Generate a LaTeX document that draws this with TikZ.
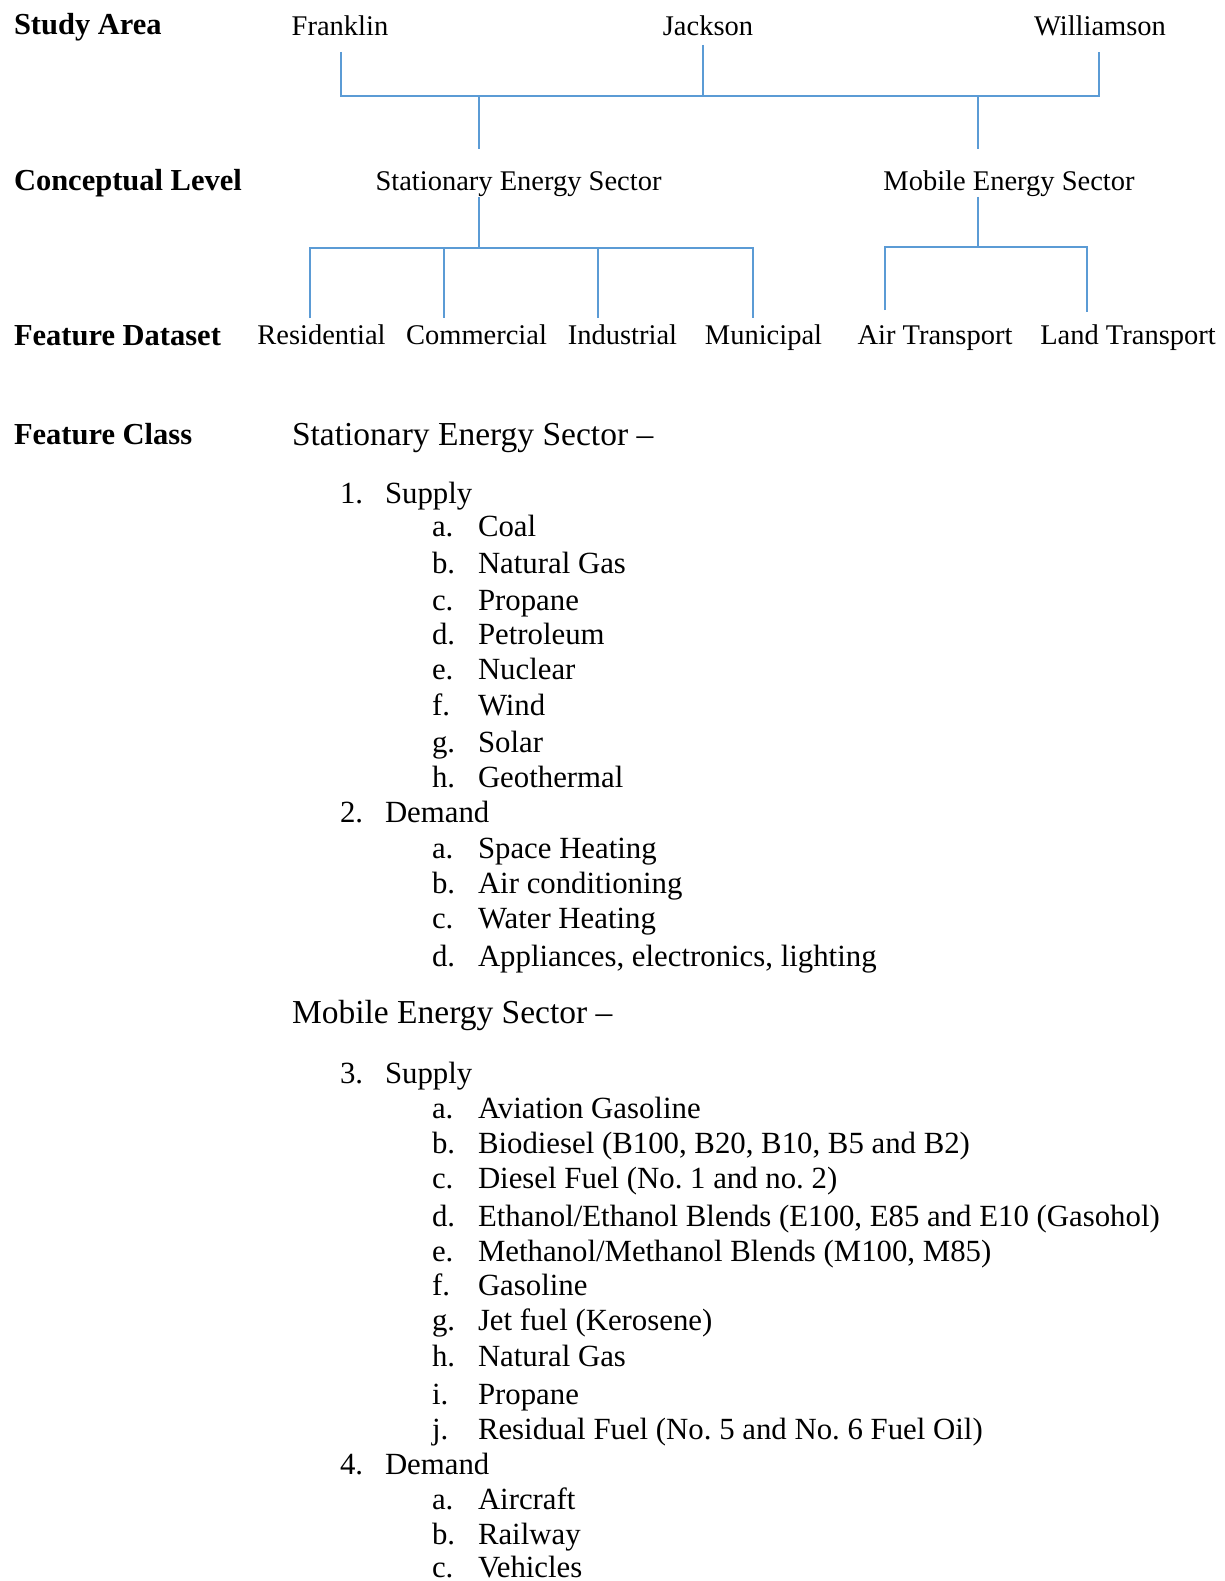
\documentclass[tikz,border=0pt]{standalone}
\usepackage{fontspec}
\setmainfont{Liberation Serif}
\frenchspacing
\definecolor{linkblue}{RGB}{91,155,213}
\begin{document}
\begin{tikzpicture}[x=1pt,y=-1pt,
  every node/.style={inner sep=0pt,outer sep=0pt},
  lvl/.style={anchor=base west,font=\bfseries\fontsize{30.5}{36}\selectfont},
  tlabel/.style={anchor=base,font=\fontsize{28.5}{34}\selectfont},
  head/.style={anchor=base west,font=\fontsize{33.5}{40}\selectfont},
  item/.style={anchor=base west,font=\fontsize{30.8}{36}\selectfont},
  link/.style={draw=linkblue,line width=2pt}]
\useasboundingbox[fill=white] (0,0) rectangle (1224,1581);

% level captions
\node[lvl] (lvStudy) at (14,35) {Study Area};
\node[lvl] (lvConcept) at (14,191) {Conceptual Level};
\node[lvl] (lvDataset) at (14,345) {Feature Dataset};
\node[lvl] (lvClass) at (14,444) {Feature Class};

% study area
\node[tlabel] (franklin) at (340,36) {Franklin};
\node[tlabel] (jackson) at (708,36) {Jackson};
\node[tlabel] (williamson) at (1100,36) {Williamson};

% sectors
\node[tlabel] (stationary) at (518.5,191) {Stationary Energy Sector};
\node[tlabel] (mobile) at (1009,191) {Mobile Energy Sector};

% feature datasets
\node[tlabel] (residential) at (321.5,344) {Residential};
\node[tlabel] (commercial) at (476.5,344) {Commercial};
\node[tlabel] (industrial) at (622.5,344) {Industrial};
\node[tlabel] (municipal) at (763.5,344) {Municipal};
\node[tlabel] (air) at (935,344) {Air Transport};
\node[tlabel] (land) at (1128,344) {Land Transport};

% junction points of the tree
\coordinate (frTop) at (341,52);   \coordinate (frBar) at (341,96);
\coordinate (jaTop) at (703,45);   \coordinate (jaBar) at (703,96);
\coordinate (wiTop) at (1099,52);  \coordinate (wiBar) at (1099,96);
\coordinate (stUp) at (479,96);    \coordinate (stUpEnd) at (479,149);
\coordinate (moUp) at (978,96);    \coordinate (moUpEnd) at (978,149);
\coordinate (stDown) at (479,197); \coordinate (stBar) at (479,248);
\coordinate (moDown) at (978,197); \coordinate (moBar) at (978,247);
\coordinate (resBar) at (310,248); \coordinate (resEnd) at (310,318);
\coordinate (comBar) at (444,248); \coordinate (comEnd) at (444,318);
\coordinate (indBar) at (598,248); \coordinate (indEnd) at (598,318);
\coordinate (munBar) at (753,248); \coordinate (munEnd) at (753,318);
\coordinate (airBar) at (885,247); \coordinate (airEnd) at (885,310);
\coordinate (lanBar) at (1087,247);\coordinate (lanEnd) at (1087,312);

% connectors
\draw[link] (frTop) -- (frBar) -- (wiBar) -- (wiTop);
\draw[link] (jaTop) -- (jaBar);
\draw[link] (stUp) -- (stUpEnd);
\draw[link] (moUp) -- (moUpEnd);
\draw[link] (stDown) -- (stBar);
\draw[link] (resEnd) -- (resBar) -- (munBar) -- (munEnd);
\draw[link] (comBar) -- (comEnd);
\draw[link] (indBar) -- (indEnd);
\draw[link] (moDown) -- (moBar);
\draw[link] (airEnd) -- (airBar) -- (lanBar) -- (lanEnd);

% feature classes: stationary sector
\node[head] (hStat) at (292,445) {Stationary Energy Sector –};
\node[item] (n1) at (340,503) {1.};  \node[item] (t1) at (385,503) {Supply};
\node[item] at (432,536) {a.}; \node[item] at (478,536) {Coal};
\node[item] at (432,573) {b.}; \node[item] at (478,573) {Natural Gas};
\node[item] at (432,610) {c.}; \node[item] at (478,610) {Propane};
\node[item] at (432,644) {d.}; \node[item] at (478,644) {Petroleum};
\node[item] at (432,679) {e.}; \node[item] at (478,679) {Nuclear};
\node[item] at (432,715) {f.}; \node[item] at (478,715) {Wind};
\node[item] at (432,752) {g.}; \node[item] at (478,752) {Solar};
\node[item] at (432,787) {h.}; \node[item] at (478,787) {Geothermal};
\node[item] (n2) at (340,822) {2.};  \node[item] (t2) at (385,822) {Demand};
\node[item] at (432,858) {a.}; \node[item] at (478,858) {Space Heating};
\node[item] at (432,893) {b.}; \node[item] at (478,893) {Air conditioning};
\node[item] at (432,928) {c.}; \node[item] at (478,928) {Water Heating};
\node[item] at (432,966) {d.}; \node[item] at (478,966) {Appliances, electronics, lighting};

% feature classes: mobile sector
\node[head] (hMob) at (292,1023) {Mobile Energy Sector –};
\node[item] (n3) at (340,1083) {3.};  \node[item] (t3) at (385,1083) {Supply};
\node[item] at (432,1118) {a.}; \node[item] at (478,1118) {Aviation Gasoline};
\node[item] at (432,1153) {b.}; \node[item] at (478,1153) {Biodiesel (B100, B20, B10, B5 and B2)};
\node[item] at (432,1188) {c.}; \node[item] at (478,1188) {Diesel Fuel (No. 1 and no. 2)};
\node[item] at (432,1226) {d.}; \node[item] at (478,1226) {Ethanol/Ethanol Blends (E100, E85 and E10 (Gasohol)};
\node[item] at (432,1261) {e.}; \node[item] at (478,1261) {Methanol/Methanol Blends (M100, M85)};
\node[item] at (432,1295) {f.}; \node[item] at (478,1295) {Gasoline};
\node[item] at (432,1330) {g.}; \node[item] at (478,1330) {Jet fuel (Kerosene)};
\node[item] at (432,1366) {h.}; \node[item] at (478,1366) {Natural Gas};
\node[item] at (432,1404) {i.}; \node[item] at (478,1404) {Propane};
\node[item] at (432,1439) {j.}; \node[item] at (478,1439) {Residual Fuel (No. 5 and No. 6 Fuel Oil)};
\node[item] (n4) at (340,1474) {4.};  \node[item] (t4) at (385,1474) {Demand};
\node[item] at (432,1509) {a.}; \node[item] at (478,1509) {Aircraft};
\node[item] at (432,1544) {b.}; \node[item] at (478,1544) {Railway};
\node[item] at (432,1577) {c.}; \node[item] at (478,1577) {Vehicles};
\end{tikzpicture}
\end{document}
